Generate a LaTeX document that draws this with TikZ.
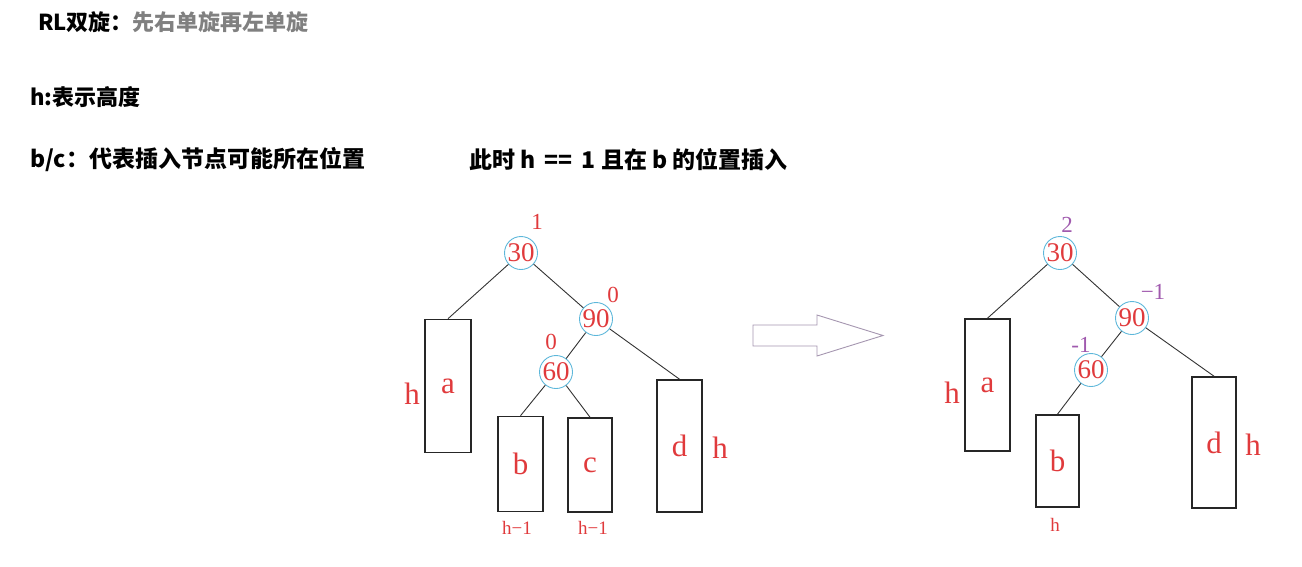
\documentclass[tikz,border=0pt]{standalone}
\usepackage{fontspec}
\setmainfont{Liberation Serif}
\newfontfamily\cjk{Noto Sans CJK SC}

\definecolor{avlred}{HTML}{E03A3C}
\definecolor{avlblue}{HTML}{5DB7DA}
\definecolor{avlpurple}{HTML}{A05AAE}
\definecolor{arrowgray}{HTML}{A596B0}
\definecolor{titlegray}{HTML}{808080}

\tikzstyle{heading}=[anchor=west, inner sep=0pt, font={\cjk\bfseries\fontsize{22}{24}\selectfont}]
\tikzstyle{bigheading}=[heading, font={\cjk\bfseries\fontsize{23}{25}\selectfont}]
\tikzstyle{key}=[circle, draw=avlblue, line width=0.9pt, minimum size=33pt, inner sep=0pt, text=avlred, font={\fontsize{27}{27}\selectfont}]
\tikzstyle{subtree}=[draw=black!85, line width=1.6pt, minimum width=45pt, inner sep=0pt, text=avlred, font={\fontsize{31}{31}\selectfont}]
\tikzstyle{height}=[inner sep=0pt, text=avlred, font={\fontsize{31}{31}\selectfont}]
\tikzstyle{hsmall}=[inner sep=0pt, text=avlred, font={\fontsize{19}{19}\selectfont}]
\tikzstyle{bal}=[inner sep=0pt, text=avlred, font={\fontsize{23}{23}\selectfont}]
\tikzstyle{balnew}=[bal, text=avlpurple]
\tikzstyle{edge}=[draw=black!80, line width=0.9pt]

\begin{document}
\begin{tikzpicture}[x=1pt, y=-1pt]
    \useasboundingbox (0,0) rectangle (1302,566);

    % notes
    \node [heading] (title) at (38,22) {RL双旋：\textcolor{titlegray}{先右单旋再左单旋}};
    \node [heading] (hnote) at (30,97) {h:表示高度};
    \node [bigheading] (bcnote) at (30,160) {b/c：代表插入节点可能所在位置};
    \node [bigheading] (case) at (469,160) {此时 h \,==\, 1 且在 b 的位置插入};

    % tree before the rotation
    \node [key] (l30) at (521,253) {30};
    \node [key] (l90) at (596,319) {90};
    \node [key] (l60) at (556,372) {60};
    \node [subtree, minimum width=46pt, minimum height=133pt] (la) at (448,386) {a};
    \node [subtree, minimum height=95pt] (lb) at (520.5,464) {b};
    \node [subtree, minimum width=44pt, minimum height=94pt] (lc) at (590,465) {c};
    \node [subtree, minimum height=132pt] (ld) at (679.5,446) {d};
    \node [height] (lha) at (412,394) {h};
    \node [height] (lhd) at (720,448) {h};
    \node [hsmall] (lhb) at (517,528) {h−1};
    \node [hsmall] (lhc) at (593,528) {h−1};
    \node [bal] (lb30) at (537,222) {1};
    \node [bal] (lb90) at (613,295) {0};
    \node [bal] (lb60) at (551,342) {0};
    \draw [edge] (l30) -- (la.north);
    \draw [edge] (l30) -- (l90);
    \draw [edge] (l90) -- (l60);
    \draw [edge] (l90) -- (ld.north);
    \draw [edge] (l60) -- (lb.north);
    \draw [edge] (l60) -- (lc.north);

    % big arrow
    \draw [arrowgray, line width=0.9pt, fill=white] (753,325) -- (817,325) -- (817,315) -- (883,335.5)
        -- (817,356) -- (817,346) -- (753,346) -- cycle;

    % tree after inserting into b
    \node [key] (r30) at (1060,253) {30};
    \node [key] (r90) at (1132,318) {90};
    \node [key] (r60) at (1091,370) {60};
    \node [subtree, minimum height=132pt] (ra) at (987.5,385) {a};
    \node [subtree, minimum width=43pt, minimum height=92pt] (rb) at (1057.5,461) {b};
    \node [subtree, minimum width=44pt, minimum height=131pt] (rd) at (1214,442.5) {d};
    \node [height] (rha) at (952,393) {h};
    \node [height] (rhd) at (1253,445) {h};
    \node [hsmall] (rhb) at (1055,525) {h};
    \node [balnew] (rb30) at (1067,225) {2};
    \node [balnew] (rb90) at (1153,292) {−1};
    \node [balnew] (rb60) at (1081,345) {-1};
    \draw [edge] (r30) -- (ra.north);
    \draw [edge] (r30) -- (r90);
    \draw [edge] (r90) -- (r60);
    \draw [edge] (r90) -- (rd.north);
    \draw [edge] (r60) -- (rb.north);
\end{tikzpicture}
\end{document}
